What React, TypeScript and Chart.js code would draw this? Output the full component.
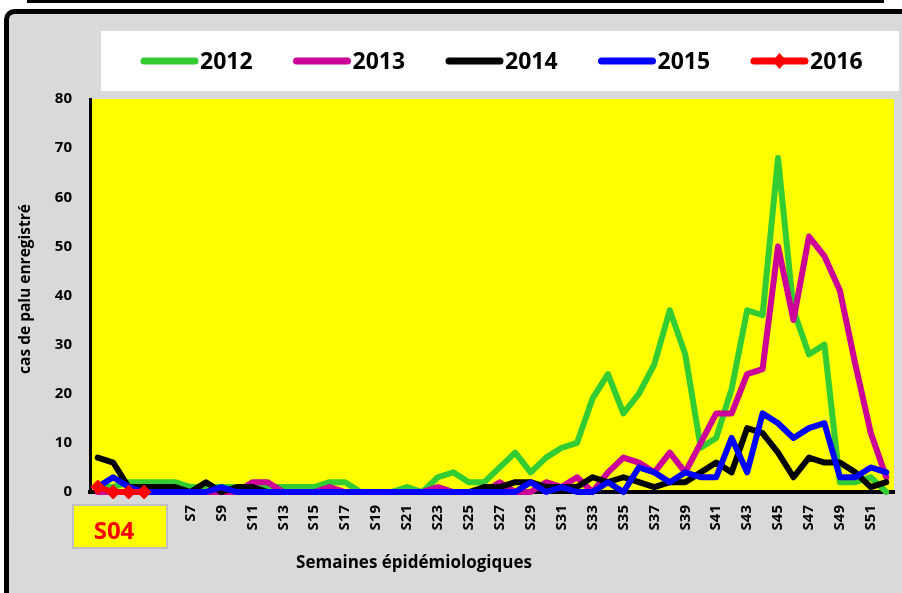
import React, { useEffect, useRef } from "react";
import { Chart, registerables } from "chart.js";

Chart.register(...registerables);

const WEEKS = [
  "S1", "S2", "S3", "S4", "S5", "S6", "S7", "S8", "S9", "S10",
  "S11", "S12", "S13", "S14", "S15", "S16", "S17", "S18", "S19", "S20",
  "S21", "S22", "S23", "S24", "S25", "S26", "S27", "S28", "S29", "S30",
  "S31", "S32", "S33", "S34", "S35", "S36", "S37", "S38", "S39", "S40",
  "S41", "S42", "S43", "S44", "S45", "S46", "S47", "S48", "S49", "S50",
  "S51", "S52",
];

const CASES_2012 = [1, 1, 2, 2, 2, 2, 1, 1, 1, 1, 1, 1, 1, 1, 1, 2, 2, 0, 0, 0, 1, 0, 3, 4, 2, 2, 5, 8, 4, 7, 9, 10, 19, 24, 16, 20, 26, 37, 28, 9, 11, 21, 37, 36, 68, 37, 28, 30, 2, 2, 3, 0];
const CASES_2013 = [0, 0, 0, 0, 0, 0, 0, 0, 0, 0, 2, 2, 0, 0, 0, 1, 0, 0, 0, 0, 0, 0, 1, 0, 0, 0, 2, 0, 0, 2, 1, 3, 0, 4, 7, 6, 4, 8, 4, 10, 16, 16, 24, 25, 50, 35, 52, 48, 41, 26, 12, 3];
const CASES_2014 = [7, 6, 1, 1, 1, 1, 0, 2, 0, 1, 1, 0, 0, 0, 0, 0, 0, 0, 0, 0, 0, 0, 0, 0, 0, 1, 1, 2, 2, 1, 1, 1, 3, 2, 3, 2, 1, 2, 2, 4, 6, 4, 13, 12, 8, 3, 7, 6, 6, 4, 1, 2];
const CASES_2015 = [1, 3, 1, 0, 0, 0, 0, 0, 1, 0, 0, 0, 0, 0, 0, 0, 0, 0, 0, 0, 0, 0, 0, 0, 0, 0, 0, 0, 2, 0, 1, 0, 0, 2, 0, 5, 4, 2, 4, 3, 3, 11, 4, 16, 14, 11, 13, 14, 3, 3, 5, 4];
const CASES_2016 = [1, 0, 0, 0];

const SERIES_LABELS = ["2012", "2013", "2014", "2015", "2016"];
const SERIES_COLORS = ["#33cc33", "#cc0099", "#000000", "#0000ff", "#ff0000"];

const Y_MIN = 0;
const Y_MAX = 80;
const Y_STEP = 10;

const Y_TITLE = "cas de palu enregistré";
const X_TITLE = "Semaines épidémiologiques";
const CURRENT_WEEK = "S04";

const FONT = "'Open Sans', 'DejaVu Sans', sans-serif";

const decorPlugin = {
  id: "decor",
  beforeDraw(chart: any) {
    const { ctx, width, height, chartArea } = chart;
    ctx.save();
    ctx.fillStyle = "#ffffff";
    ctx.fillRect(0, 0, width, height);
    ctx.fillStyle = "#000000";
    ctx.fillRect(27, 0, 857, 3);
    ctx.beginPath();
    if (ctx.roundRect) ctx.roundRect(6.5, 11.5, width + 20, height + 20, 8);
    else ctx.rect(6.5, 11.5, width + 20, height + 20);
    ctx.fillStyle = "#d9d9d9";
    ctx.fill();
    ctx.lineWidth = 5;
    ctx.strokeStyle = "#000000";
    ctx.stroke();
    ctx.fillStyle = "#ffffff";
    ctx.fillRect(101, 31, 798, 60);
    ctx.fillStyle = "#ffff00";
    ctx.fillRect(
      chartArea.left,
      chartArea.top,
      chartArea.right - chartArea.left,
      chartArea.bottom - chartArea.top
    );
    ctx.restore();
  },
  afterDraw(chart: any) {
    const { ctx } = chart;
    ctx.save();
    // legend
    chart.data.datasets.forEach((ds: any, i: number) => {
      const x0 = 141 + i * 152.5;
      const y = 61;
      ctx.strokeStyle = ds.borderColor;
      ctx.lineWidth = 7;
      ctx.lineCap = "round";
      ctx.beginPath();
      ctx.moveTo(x0 + 3, y);
      ctx.lineTo(x0 + 54, y);
      ctx.stroke();
      if (ds.pointStyle === "rectRot") {
        const cx = x0 + 28.5;
        ctx.fillStyle = ds.borderColor;
        ctx.beginPath();
        ctx.moveTo(cx, y - 8);
        ctx.lineTo(cx + 7, y);
        ctx.lineTo(cx, y + 8);
        ctx.lineTo(cx - 7, y);
        ctx.closePath();
        ctx.fill();
      }
      ctx.fillStyle = "#000000";
      ctx.font = `bold 23px ${FONT}`;
      ctx.textAlign = "left";
      ctx.textBaseline = "middle";
      ctx.fillText(ds.label, x0 + 59, y + 1);
    });
    // axis titles
    ctx.fillStyle = "#000000";
    ctx.font = `bold 17px ${FONT}`;
    ctx.textAlign = "center";
    ctx.textBaseline = "middle";
    ctx.fillText(X_TITLE, 414, 563);
    ctx.save();
    ctx.translate(26, 289);
    ctx.rotate(-Math.PI / 2);
    ctx.font = `bold 15.5px ${FONT}`;
    ctx.fillText(Y_TITLE, 0, 0);
    ctx.restore();
    // current week box
    ctx.fillStyle = "#ffff00";
    ctx.fillRect(73, 505, 94, 43);
    ctx.strokeStyle = "#bfbfbf";
    ctx.lineWidth = 2;
    ctx.strokeRect(73, 505, 94, 43);
    ctx.fillStyle = "#ff0000";
    ctx.font = `bold 24px ${FONT}`;
    ctx.textAlign = "center";
    ctx.textBaseline = "middle";
    ctx.fillText(CURRENT_WEEK, 114, 532);
    ctx.restore();
  },
};

export default function App() {
  const canvasRef = useRef<HTMLCanvasElement | null>(null);

  useEffect(() => {
    document.body.style.margin = "0";
    const canvas = canvasRef.current;
    if (!canvas) return;
    const seriesData = [CASES_2012, CASES_2013, CASES_2014, CASES_2015, CASES_2016];
    const datasets = SERIES_LABELS.map((label, i) => {
      const isMarker = i === 4;
      return {
        label,
        data: seriesData[i],
        borderColor: SERIES_COLORS[i],
        backgroundColor: SERIES_COLORS[i],
        borderWidth: 6,
        borderJoinStyle: "round",
        borderCapStyle: "round",
        tension: 0,
        pointRadius: isMarker ? 7 : 0,
        pointHoverRadius: isMarker ? 7 : 0,
        pointStyle: isMarker ? "rectRot" : "circle",
        pointBorderWidth: 1,
        order: 4 - i,
        clip: false,
      };
    });

    const chart = new Chart(canvas, {
      type: "line",
      data: { labels: WEEKS, datasets: datasets as any },
      plugins: [decorPlugin],
      options: {
        responsive: false,
        animation: false,
        devicePixelRatio: 1,
        layout: { padding: { left: 10, top: 99, right: 6, bottom: 0 } },
        plugins: {
          legend: { display: false },
          tooltip: { enabled: false },
          title: { display: false },
        },
        scales: {
          x: {
            type: "category",
            offset: true,
            grid: { display: false, drawTicks: false },
            border: { display: true, color: "#000000", width: 4 },
            ticks: {
              autoSkip: false,
              minRotation: 90,
              maxRotation: 90,
              padding: 13,
              color: "#000000",
              font: { family: FONT, weight: "bold", size: 15 },
              callback: (_v: any, idx: number) => (idx % 2 === 0 ? WEEKS[idx] : ""),
            },
            title: { display: false },
            afterFit: (scale: any) => {
              scale.height = 101;
              scale.paddingLeft = 0;
              scale.paddingRight = 0;
            },
          },
          y: {
            min: Y_MIN,
            max: Y_MAX,
            grid: { display: false, drawTicks: false },
            border: { display: true, color: "#000000", width: 3 },
            ticks: {
              stepSize: Y_STEP,
              padding: 18,
              color: "#000000",
              font: { family: FONT, weight: "bold", size: 15 },
            },
            title: { display: false },
            afterFit: (scale: any) => {
              scale.width = 80;
            },
          },
        },
      } as any,
    });
    return () => chart.destroy();
  }, []);

  return (
    <div style={{ width: 902, height: 593 }}>
      <canvas ref={canvasRef} width={902} height={593} style={{ display: "block" }} />
    </div>
  );
}
